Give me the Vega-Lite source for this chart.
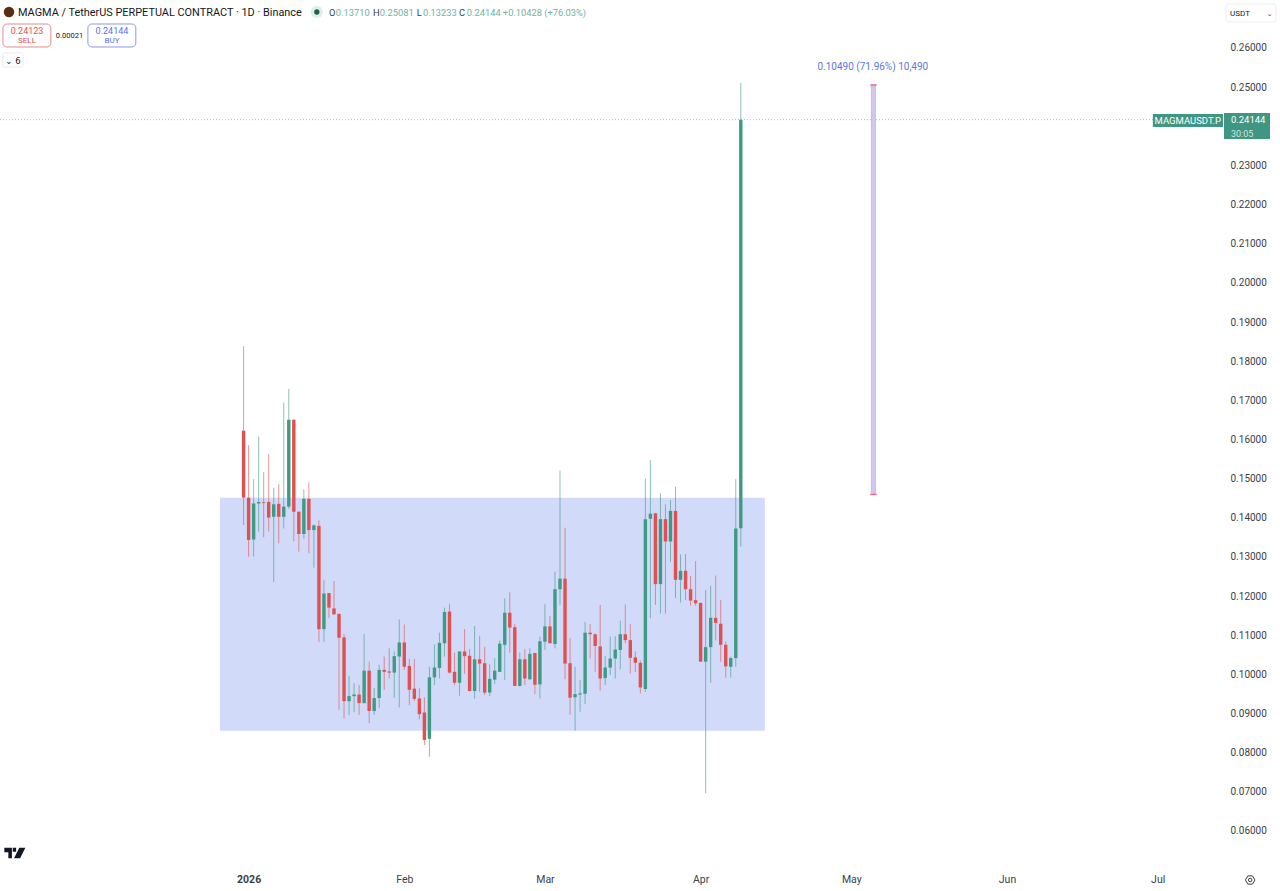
{"$schema":"https://vega.github.io/schema/vega-lite/v6.json","width":1224,"height":865,"autosize":{"type":"none"},"padding":{"left":0,"top":0,"right":56,"bottom":26},"background":"#ffffff","config":{"view":{"stroke":null},"text":{"dy":1}},
"datasets":{"candles":[
{"d":"2025-12-31","o":0.1620,"h":0.1836,"l":0.1379,"c":0.1449,"dir":"down"},
{"d":"2026-01-01","o":0.1449,"h":0.1583,"l":0.1298,"c":0.1341,"dir":"down"},
{"d":"2026-01-02","o":0.1342,"h":0.1496,"l":0.1298,"c":0.1434,"dir":"up"},
{"d":"2026-01-03","o":0.1434,"h":0.1605,"l":0.1362,"c":0.1438,"dir":"up"},
{"d":"2026-01-04","o":0.1437,"h":0.1514,"l":0.1348,"c":0.1435,"dir":"down"},
{"d":"2026-01-05","o":0.1438,"h":0.1560,"l":0.1362,"c":0.1398,"dir":"down"},
{"d":"2026-01-06","o":0.1400,"h":0.1474,"l":0.1233,"c":0.1432,"dir":"up"},
{"d":"2026-01-07","o":0.1433,"h":0.1483,"l":0.1332,"c":0.1400,"dir":"down"},
{"d":"2026-01-08","o":0.1400,"h":0.1692,"l":0.1370,"c":0.1426,"dir":"up"},
{"d":"2026-01-09","o":0.1426,"h":0.1727,"l":0.1420,"c":0.1648,"dir":"up"},
{"d":"2026-01-10","o":0.1648,"h":0.1648,"l":0.1338,"c":0.1413,"dir":"down"},
{"d":"2026-01-11","o":0.1413,"h":0.1413,"l":0.1311,"c":0.1356,"dir":"down"},
{"d":"2026-01-12","o":0.1356,"h":0.1470,"l":0.1344,"c":0.1446,"dir":"up"},
{"d":"2026-01-13","o":0.1446,"h":0.1488,"l":0.1307,"c":0.1366,"dir":"down"},
{"d":"2026-01-14","o":0.1366,"h":0.1381,"l":0.1270,"c":0.1378,"dir":"up"},
{"d":"2026-01-15","o":0.1377,"h":0.1391,"l":0.1080,"c":0.1113,"dir":"down"},
{"d":"2026-01-16","o":0.1113,"h":0.1239,"l":0.1080,"c":0.1204,"dir":"up"},
{"d":"2026-01-17","o":0.1205,"h":0.1205,"l":0.1141,"c":0.1168,"dir":"down"},
{"d":"2026-01-18","o":0.1166,"h":0.1236,"l":0.1149,"c":0.1151,"dir":"down"},
{"d":"2026-01-19","o":0.1152,"h":0.1153,"l":0.0907,"c":0.1091,"dir":"down"},
{"d":"2026-01-20","o":0.1092,"h":0.1100,"l":0.0885,"c":0.0929,"dir":"down"},
{"d":"2026-01-21","o":0.0929,"h":0.0994,"l":0.0894,"c":0.0942,"dir":"up"},
{"d":"2026-01-22","o":0.0942,"h":0.0975,"l":0.0901,"c":0.0946,"dir":"up"},
{"d":"2026-01-23","o":0.0946,"h":0.0970,"l":0.0894,"c":0.0924,"dir":"down"},
{"d":"2026-01-24","o":0.0924,"h":0.1100,"l":0.0924,"c":0.1007,"dir":"up"},
{"d":"2026-01-25","o":0.1007,"h":0.1030,"l":0.0873,"c":0.0904,"dir":"down"},
{"d":"2026-01-26","o":0.0904,"h":0.0963,"l":0.0894,"c":0.0937,"dir":"up"},
{"d":"2026-01-27","o":0.0937,"h":0.1022,"l":0.0911,"c":0.1009,"dir":"up"},
{"d":"2026-01-28","o":0.1009,"h":0.1043,"l":0.0958,"c":0.1004,"dir":"down"},
{"d":"2026-01-29","o":0.1005,"h":0.1064,"l":0.0987,"c":0.1002,"dir":"down"},
{"d":"2026-01-30","o":0.1002,"h":0.1056,"l":0.0938,"c":0.1044,"dir":"up"},
{"d":"2026-01-31","o":0.1043,"h":0.1138,"l":0.0913,"c":0.1079,"dir":"up"},
{"d":"2026-02-01","o":0.1079,"h":0.1125,"l":0.1009,"c":0.1017,"dir":"down"},
{"d":"2026-02-02","o":0.1019,"h":0.1037,"l":0.0919,"c":0.0958,"dir":"down"},
{"d":"2026-02-03","o":0.0961,"h":0.1037,"l":0.0930,"c":0.0935,"dir":"down"},
{"d":"2026-02-04","o":0.0936,"h":0.0962,"l":0.0883,"c":0.0896,"dir":"down"},
{"d":"2026-02-05","o":0.0900,"h":0.0939,"l":0.0817,"c":0.0830,"dir":"down"},
{"d":"2026-02-06","o":0.0833,"h":0.1017,"l":0.0787,"c":0.0990,"dir":"up"},
{"d":"2026-02-07","o":0.0990,"h":0.1074,"l":0.0970,"c":0.1015,"dir":"up"},
{"d":"2026-02-08","o":0.1014,"h":0.1104,"l":0.0987,"c":0.1078,"dir":"up"},
{"d":"2026-02-09","o":0.1077,"h":0.1168,"l":0.1043,"c":0.1157,"dir":"up"},
{"d":"2026-02-10","o":0.1158,"h":0.1177,"l":0.1000,"c":0.1002,"dir":"down"},
{"d":"2026-02-11","o":0.1004,"h":0.1053,"l":0.0970,"c":0.0976,"dir":"down"},
{"d":"2026-02-12","o":0.0976,"h":0.1057,"l":0.0943,"c":0.1056,"dir":"up"},
{"d":"2026-02-13","o":0.1056,"h":0.1113,"l":0.0999,"c":0.1044,"dir":"down"},
{"d":"2026-02-14","o":0.1045,"h":0.1062,"l":0.0953,"c":0.0955,"dir":"down"},
{"d":"2026-02-15","o":0.0955,"h":0.1121,"l":0.0935,"c":0.1036,"dir":"up"},
{"d":"2026-02-16","o":0.1036,"h":0.1096,"l":0.0953,"c":0.1025,"dir":"down"},
{"d":"2026-02-17","o":0.1026,"h":0.1068,"l":0.0945,"c":0.0951,"dir":"down"},
{"d":"2026-02-18","o":0.0951,"h":0.1023,"l":0.0942,"c":0.0986,"dir":"up"},
{"d":"2026-02-19","o":0.0984,"h":0.1039,"l":0.0973,"c":0.1007,"dir":"up"},
{"d":"2026-02-20","o":0.1004,"h":0.1084,"l":0.1004,"c":0.1076,"dir":"up"},
{"d":"2026-02-21","o":0.1073,"h":0.1192,"l":0.0983,"c":0.1155,"dir":"up"},
{"d":"2026-02-22","o":0.1155,"h":0.1207,"l":0.1053,"c":0.1117,"dir":"down"},
{"d":"2026-02-23","o":0.1118,"h":0.1126,"l":0.0968,"c":0.0968,"dir":"down"},
{"d":"2026-02-24","o":0.0968,"h":0.1053,"l":0.0966,"c":0.1036,"dir":"up"},
{"d":"2026-02-25","o":0.1036,"h":0.1062,"l":0.0970,"c":0.0987,"dir":"down"},
{"d":"2026-02-26","o":0.0985,"h":0.1064,"l":0.0983,"c":0.1050,"dir":"up"},
{"d":"2026-02-27","o":0.1052,"h":0.1053,"l":0.0947,"c":0.0971,"dir":"down"},
{"d":"2026-02-28","o":0.0972,"h":0.1094,"l":0.0936,"c":0.1082,"dir":"up"},
{"d":"2026-03-01","o":0.1081,"h":0.1177,"l":0.1060,"c":0.1120,"dir":"up"},
{"d":"2026-03-02","o":0.1120,"h":0.1147,"l":0.1077,"c":0.1077,"dir":"down"},
{"d":"2026-03-03","o":0.1075,"h":0.1260,"l":0.1064,"c":0.1215,"dir":"up"},
{"d":"2026-03-04","o":0.1215,"h":0.1518,"l":0.1175,"c":0.1242,"dir":"up"},
{"d":"2026-03-05","o":0.1242,"h":0.1372,"l":0.0985,"c":0.1025,"dir":"down"},
{"d":"2026-03-06","o":0.1026,"h":0.1090,"l":0.0894,"c":0.0938,"dir":"down"},
{"d":"2026-03-07","o":0.0939,"h":0.1017,"l":0.0854,"c":0.0947,"dir":"up"},
{"d":"2026-03-08","o":0.0946,"h":0.0983,"l":0.0902,"c":0.0949,"dir":"up"},
{"d":"2026-03-09","o":0.0948,"h":0.1132,"l":0.0922,"c":0.1104,"dir":"up"},
{"d":"2026-03-10","o":0.1104,"h":0.1126,"l":0.1038,"c":0.1100,"dir":"down"},
{"d":"2026-03-11","o":0.1100,"h":0.1102,"l":0.1004,"c":0.1070,"dir":"down"},
{"d":"2026-03-12","o":0.1069,"h":0.1175,"l":0.0956,"c":0.0987,"dir":"down"},
{"d":"2026-03-13","o":0.0988,"h":0.1044,"l":0.0970,"c":0.1015,"dir":"up"},
{"d":"2026-03-14","o":0.1015,"h":0.1094,"l":0.0996,"c":0.1038,"dir":"up"},
{"d":"2026-03-15","o":0.1038,"h":0.1095,"l":0.0987,"c":0.1061,"dir":"up"},
{"d":"2026-03-16","o":0.1060,"h":0.1135,"l":0.1010,"c":0.1100,"dir":"up"},
{"d":"2026-03-17","o":0.1100,"h":0.1176,"l":0.1077,"c":0.1085,"dir":"down"},
{"d":"2026-03-18","o":0.1085,"h":0.1126,"l":0.1000,"c":0.1040,"dir":"down"},
{"d":"2026-03-19","o":0.1041,"h":0.1056,"l":0.1004,"c":0.1027,"dir":"down"},
{"d":"2026-03-20","o":0.1027,"h":0.1033,"l":0.0949,"c":0.0964,"dir":"down"},
{"d":"2026-03-21","o":0.0960,"h":0.1498,"l":0.0953,"c":0.1394,"dir":"up"},
{"d":"2026-03-22","o":0.1395,"h":0.1545,"l":0.1141,"c":0.1408,"dir":"up"},
{"d":"2026-03-23","o":0.1409,"h":0.1410,"l":0.1175,"c":0.1228,"dir":"down"},
{"d":"2026-03-24","o":0.1228,"h":0.1460,"l":0.1153,"c":0.1394,"dir":"up"},
{"d":"2026-03-25","o":0.1394,"h":0.1432,"l":0.1153,"c":0.1337,"dir":"down"},
{"d":"2026-03-26","o":0.1337,"h":0.1443,"l":0.1285,"c":0.1415,"dir":"up"},
{"d":"2026-03-27","o":0.1415,"h":0.1477,"l":0.1192,"c":0.1239,"dir":"down"},
{"d":"2026-03-28","o":0.1239,"h":0.1304,"l":0.1181,"c":0.1262,"dir":"up"},
{"d":"2026-03-29","o":0.1262,"h":0.1305,"l":0.1187,"c":0.1215,"dir":"down"},
{"d":"2026-03-30","o":0.1215,"h":0.1249,"l":0.1173,"c":0.1186,"dir":"down"},
{"d":"2026-03-31","o":0.1187,"h":0.1287,"l":0.1173,"c":0.1179,"dir":"down"},
{"d":"2026-04-01","o":0.1180,"h":0.1181,"l":0.1030,"c":0.1030,"dir":"down"},
{"d":"2026-04-02","o":0.1030,"h":0.1213,"l":0.0694,"c":0.1067,"dir":"up"},
{"d":"2026-04-03","o":0.1067,"h":0.1224,"l":0.0976,"c":0.1142,"dir":"up"},
{"d":"2026-04-04","o":0.1142,"h":0.1250,"l":0.1084,"c":0.1129,"dir":"down"},
{"d":"2026-04-05","o":0.1127,"h":0.1187,"l":0.1030,"c":0.1073,"dir":"down"},
{"d":"2026-04-06","o":0.1073,"h":0.1081,"l":0.0989,"c":0.1018,"dir":"down"},
{"d":"2026-04-07","o":0.1017,"h":0.1043,"l":0.0989,"c":0.1039,"dir":"up"},
{"d":"2026-04-08","o":0.1039,"h":0.1496,"l":0.1017,"c":0.1370,"dir":"up"},
{"d":"2026-04-09","o":0.1371,"h":0.25081,"l":0.13233,"c":0.24144,"dir":"up"}
]},
"encoding":{
"x":{"field":"d","type":"temporal","title":null,"scale":{"type":"utc","domain":[1762948800000,1784005200000]},"axis":{"orient":"bottom","values":[1767225600000,1769904000000,1772323200000,1775001600000,1777593600000,1780272000000,1782864000000],"labelExpr":"utcmonth(datum.value)===0 ? '2026' : utcFormat(datum.value,'%b')","labelFontWeight":{"condition":{"test":"utcmonth(datum.value)===0","value":"bold"},"value":"normal"},"labelFont":"Roboto","labelFontSize":10.5,"labelColor":"#3a3e49","labelPadding":9,"labelOverlap":false,"ticks":false,"domain":false,"grid":false,"title":null}},
"y":{"field":"p","type":"quantitative","title":null,"scale":{"domain":[0.05106,0.272],"nice":false,"zero":false},"axis":{"orient":"right","values":[0.06,0.07,0.08,0.09,0.10,0.11,0.12,0.13,0.14,0.15,0.16,0.17,0.18,0.19,0.20,0.21,0.22,0.23,0.25,0.26],"format":".5f","labelFont":"Roboto","labelFontSize":10,"labelColor":"#3a3e49","labelPadding":6,"labelOffset":1,"labelOverlap":false,"ticks":false,"domain":false,"grid":false,"title":null}}
},
"layer":[
{"data":{"values":[{"d":"2025-12-26T07:00:00Z","d2":"2026-04-13T19:00:00Z","p":0.08537,"p2":0.14485}]},"mark":{"type":"rect","color":"#d1daf9"},"encoding":{"x2":{"field":"d2"},"y2":{"field":"p2"}}},
{"data":{"name":"candles"},"mark":{"type":"rule","strokeWidth":1,"opacity":0.6},"encoding":{"y":{"field":"l","type":"quantitative","title":null,"scale":{"domain":[0.05106,0.272],"nice":false,"zero":false},"axis":{"orient":"right","values":[0.06,0.07,0.08,0.09,0.10,0.11,0.12,0.13,0.14,0.15,0.16,0.17,0.18,0.19,0.20,0.21,0.22,0.23,0.25,0.26],"format":".5f","labelFont":"Roboto","labelFontSize":10,"labelColor":"#3a3e49","labelPadding":6,"labelOffset":1,"labelOverlap":false,"ticks":false,"domain":false,"grid":false,"title":null}},"y2":{"field":"h"},"color":{"field":"dir","type":"nominal","legend":null,"scale":{"domain":["up","down"],"range":["#3f9a84","#e05050"]}}}},
{"data":{"name":"candles"},"mark":{"type":"rule","strokeWidth":3.4},"encoding":{"y":{"field":"o","type":"quantitative","title":null,"scale":{"domain":[0.05106,0.272],"nice":false,"zero":false},"axis":{"orient":"right","values":[0.06,0.07,0.08,0.09,0.10,0.11,0.12,0.13,0.14,0.15,0.16,0.17,0.18,0.19,0.20,0.21,0.22,0.23,0.25,0.26],"format":".5f","labelFont":"Roboto","labelFontSize":10,"labelColor":"#3a3e49","labelPadding":6,"labelOffset":1,"labelOverlap":false,"ticks":false,"domain":false,"grid":false,"title":null}},"y2":{"field":"c"},"color":{"field":"dir","type":"nominal","legend":null,"scale":{"domain":["up","down"],"range":["#3f9a84","#e05050"]}}}},
{"data":{"values":[{"d":"2025-11-12T12:00:00Z","d2":"2026-07-14T05:00:00Z","p":0.24144}]},"mark":{"type":"rule","color":"#4aa88f","strokeWidth":1,"strokeDash":[1,2],"opacity":0.6},"encoding":{"x2":{"field":"d2"}}},
{"data":{"values":[{"d":"2026-05-05T00:00:00Z","d2":"2026-05-05T19:00:00Z","p":0.1457,"p2":0.2503}]},"mark":{"type":"rect","fill":"#cfc8f0","stroke":"#e8b0c4","strokeWidth":1},"encoding":{"x2":{"field":"d2"},"y2":{"field":"p2"}}},
{"data":{"values":[{"d":"2026-05-04T19:00:00Z","d2":"2026-05-06T01:00:00Z","p":0.1457},{"d":"2026-05-04T19:00:00Z","d2":"2026-05-06T01:00:00Z","p":0.2503}]},"mark":{"type":"rule","color":"#e0708a","strokeWidth":1.5},"encoding":{"x2":{"field":"d2"}}},
{"data":{"values":[{"d":"2026-05-05T07:00:00Z","p":0.25515,"t":"0.10490 (71.96%) 10,490"}]},"mark":{"type":"text","font":"Roboto","fontSize":10,"color":"#5b78e0","align":"center","baseline":"middle"},"encoding":{"text":{"field":"t"}}},
{"data":{"values":[{"d":"2025-11-14T07:00:00Z","p":0.26894}]},"mark":{"type":"point","shape":"circle","filled":true,"size":110,"color":"#5a2d12","opacity":1}},
{"data":{"values":[{"d":"2025-11-16T02:00:00Z","p":0.26894,"t":"MAGMA / TetherUS PERPETUAL CONTRACT · 1D · Binance"}]},"mark":{"type":"text","font":"Roboto","fontSize":10.9,"color":"#131722","align":"left","baseline":"middle"},"encoding":{"text":{"field":"t"}}},
{"data":{"values":[{"d":"2026-01-14T14:00:00Z","p":0.26894}]},"mark":{"type":"point","shape":"circle","filled":true,"size":150,"color":"#dcefe9","opacity":1}},
{"data":{"values":[{"d":"2026-01-14T14:00:00Z","p":0.26894}]},"mark":{"type":"point","shape":"circle","filled":true,"size":28,"color":"#1f5f4f","opacity":1}},
{"data":{"values":[{"d":"2026-01-17T00:00:00Z","p":0.26894,"t":"O"},{"d":"2026-01-25T18:00:00Z","p":0.26894,"t":"H"},{"d":"2026-02-03T12:00:00Z","p":0.26894,"t":"L"},{"d":"2026-02-11T21:00:00Z","p":0.26894,"t":"C"}]},"mark":{"type":"text","font":"Roboto","fontSize":9.3,"color":"#3a3e49","align":"left","baseline":"middle"},"encoding":{"text":{"field":"t"}}},
{"data":{"values":[{"d":"2026-01-18T09:00:00Z","p":0.26894,"t":"0.13710"},{"d":"2026-01-27T03:00:00Z","p":0.26894,"t":"0.25081"},{"d":"2026-02-04T17:00:00Z","p":0.26894,"t":"0.13233"},{"d":"2026-02-13T11:00:00Z","p":0.26894,"t":"0.24144"},{"d":"2026-02-20T15:00:00Z","p":0.26894,"t":"+0.10428 (+76.03%)"}]},"mark":{"type":"text","font":"Roboto","fontSize":9.3,"color":"#6fb3a0","align":"left","baseline":"middle"},"encoding":{"text":{"field":"t"}}},
{"data":{"values":[{"d":"2025-11-13T02:00:00Z","d2":"2025-11-22T15:00:00Z","p":0.26,"p2":0.26587}]},"mark":{"type":"rect","fill":"#ffffff","stroke":"#e58a8a","strokeWidth":1,"cornerRadius":4},"encoding":{"x2":{"field":"d2"},"y2":{"field":"p2"}}},
{"data":{"values":[{"d":"2025-11-30T00:00:00Z","d2":"2025-12-09T13:00:00Z","p":0.26,"p2":0.26587}]},"mark":{"type":"rect","fill":"#ffffff","stroke":"#8a9ae8","strokeWidth":1,"cornerRadius":4},"encoding":{"x2":{"field":"d2"},"y2":{"field":"p2"}}},
{"data":{"values":[{"d":"2025-11-17T21:00:00Z","p":0.26421,"t":"0.24123"}]},"mark":{"type":"text","font":"Roboto","fontSize":9,"color":"#e05050","align":"center","baseline":"middle"},"encoding":{"text":{"field":"t"}}},
{"data":{"values":[{"d":"2025-11-17T21:00:00Z","p":0.26166,"t":"SELL"}]},"mark":{"type":"text","font":"Roboto","fontSize":8,"color":"#e05050","align":"center","baseline":"middle"},"encoding":{"text":{"field":"t"}}},
{"data":{"values":[{"d":"2025-12-04T19:00:00Z","p":0.26421,"t":"0.24144"}]},"mark":{"type":"text","font":"Roboto","fontSize":9,"color":"#5b6ee8","align":"center","baseline":"middle"},"encoding":{"text":{"field":"t"}}},
{"data":{"values":[{"d":"2025-12-04T19:00:00Z","p":0.26166,"t":"BUY"}]},"mark":{"type":"text","font":"Roboto","fontSize":8,"color":"#5b6ee8","align":"center","baseline":"middle"},"encoding":{"text":{"field":"t"}}},
{"data":{"values":[{"d":"2025-11-26T08:00:00Z","p":0.26306,"t":"0.00021"}]},"mark":{"type":"text","font":"Roboto","fontSize":7.5,"color":"#131722","align":"center","baseline":"middle"},"encoding":{"text":{"field":"t"}}},
{"data":{"values":[{"d":"2025-11-13T02:00:00Z","d2":"2025-11-17T02:00:00Z","p":0.25489,"p2":0.25847}]},"mark":{"type":"rect","fill":"#ffffff","stroke":"#e8eaf0","strokeWidth":1,"cornerRadius":2},"encoding":{"x2":{"field":"d2"},"y2":{"field":"p2"}}},
{"data":{"values":[{"d":"2025-11-15T02:00:00Z","p":0.25668,"t":"⌄ 6"}]},"mark":{"type":"text","font":"DejaVu Sans","fontSize":8.5,"color":"#131722","align":"center","baseline":"middle"},"encoding":{"text":{"field":"t"}}},
{"data":{"values":[{"d":"2026-07-14T14:00:00Z","d2":"2026-07-24T13:00:00Z","p":0.26639,"p2":0.27098}]},"mark":{"type":"rect","fill":"#ffffff","stroke":"#eceef2","strokeWidth":1,"cornerRadius":3},"encoding":{"x2":{"field":"d2"},"y2":{"field":"p2"}}},
{"data":{"values":[{"d":"2026-07-15T10:00:00Z","p":0.26868,"t":"USDT"}]},"mark":{"type":"text","font":"Roboto","fontSize":8,"color":"#131722","align":"left","baseline":"middle"},"encoding":{"text":{"field":"t"}}},
{"data":{"values":[{"d":"2026-07-23T07:00:00Z","p":0.26868,"t":"⌄"}]},"mark":{"type":"text","font":"DejaVu Sans","fontSize":7,"color":"#3a3e49","align":"center","baseline":"middle"},"encoding":{"text":{"field":"t"}}},
{"data":{"values":[{"d":"2026-06-30T01:00:00Z","d2":"2026-07-14T00:00:00Z","p":0.23957,"p2":0.24289}]},"mark":{"type":"rect","fill":"#3f9682"},"encoding":{"x2":{"field":"d2"},"y2":{"field":"p2"}}},
{"data":{"values":[{"d":"2026-07-14T05:00:00Z","d2":"2026-07-23T09:00:00Z","p":0.2365,"p2":0.24314}]},"mark":{"type":"rect","fill":"#3f9682"},"encoding":{"x2":{"field":"d2"},"y2":{"field":"p2"}}},
{"data":{"values":[{"d":"2026-07-07T00:00:00Z","p":0.24123,"t":"MAGMAUSDT.P"}]},"mark":{"type":"text","font":"Roboto","fontSize":9.5,"color":"#ffffff","align":"center","baseline":"middle"},"encoding":{"text":{"field":"t"}}},
{"data":{"values":[{"d":"2026-07-15T14:00:00Z","p":0.2417,"t":"0.24144"}]},"mark":{"type":"text","font":"Roboto","fontSize":9.5,"color":"#ffffff","align":"left","baseline":"middle"},"encoding":{"text":{"field":"t"}}},
{"data":{"values":[{"d":"2026-07-15T14:00:00Z","p":0.23815,"t":"30:05"}]},"mark":{"type":"text","font":"Roboto","fontSize":9,"color":"#cfe6df","align":"left","baseline":"middle"},"encoding":{"text":{"field":"t"}}},
{"data":{"values":[{"d":"2025-11-15T11:00:00Z","p":0.05413}]},"mark":{"type":"point","filled":true,"opacity":1,"color":"#131722","size":441,"shape":"M-1 -0.5H-0.28V0.5H-0.62V-0.08H-1Z M-0.2 -0.5H0.12V-0.12H-0.2Z M0.42 -0.5H1L0.5 0.5H-0.08Z"}},
{"data":{"values":[{"d":"2026-07-19T10:00:00Z","p":0.04723}]},"mark":{"type":"point","filled":false,"opacity":1,"stroke":"#3a3e49","strokeWidth":1,"size":90,"shape":"M-0.5 -0.87L0.5 -0.87L1 0L0.5 0.87L-0.5 0.87L-1 0Z"}},
{"data":{"values":[{"d":"2026-07-19T10:00:00Z","p":0.04723}]},"mark":{"type":"point","filled":false,"opacity":1,"stroke":"#3a3e49","strokeWidth":1,"size":12,"shape":"circle"}}
]}
